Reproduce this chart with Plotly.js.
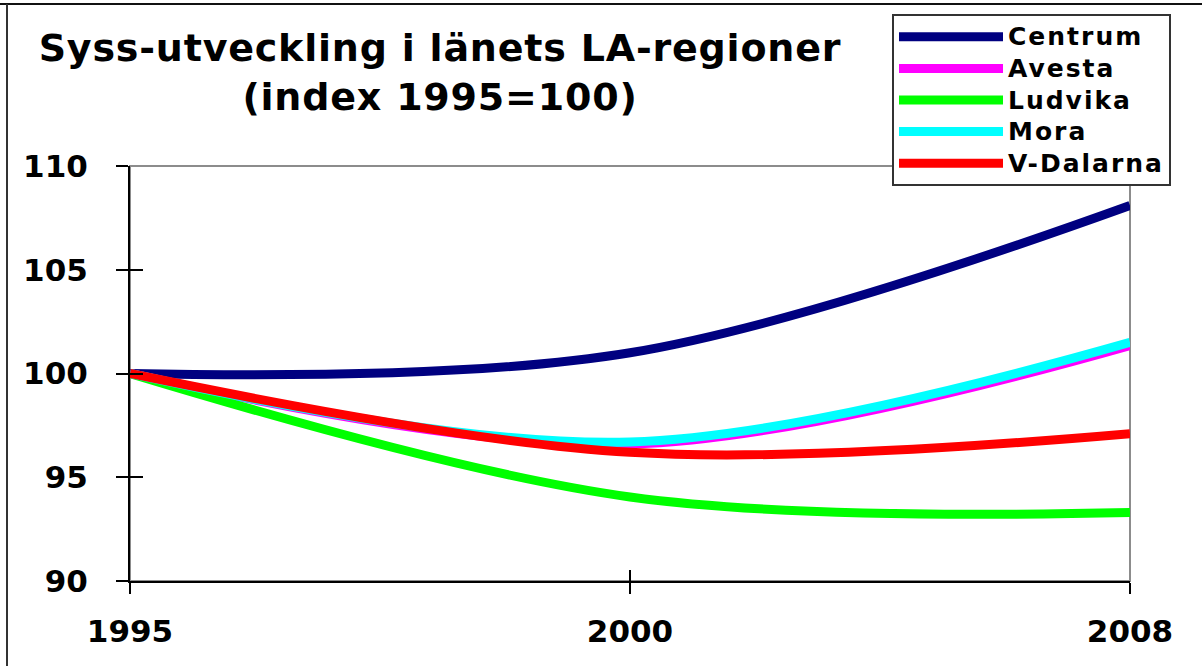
<!DOCTYPE html>
<html>
<head>
<meta charset="utf-8">
<script src="https://cdn.plot.ly/plotly-3.0.1.min.js"></script>
<style>
  html, body { margin: 0; padding: 0; background: #fff; }
  #chart { width: 1202px; height: 666px; }
  .legendtext { font-size: 25px !important; letter-spacing: 2px; }
  .gtitle { letter-spacing: 0.8px; }
</style>
</head>
<body>
<div id="chart"></div>
<script>
// ---- data ----
const years = ['1995', '2000', '2008'];
const seriesNames = ['Centrum', 'Avesta', 'Ludvika', 'Mora', 'V-Dalarna'];
const centrum  = [100, 101.0, 108.1];
const avesta   = [100, 96.6, 101.35];
const ludvika  = [100, 94.05, 93.3];
const mora     = [100, 96.7, 101.5];
const vdalarna = [100, 96.2, 97.1];
const yTicks = [90, 95, 100, 105, 110];

const seriesValues = [centrum, avesta, ludvika, mora, vdalarna];
const seriesColors = ['#000080', '#FF00FF', '#00FF00', '#00FFFF', '#FF0000'];

const traces = seriesNames.map((name, i) => ({
  type: 'scatter',
  mode: 'lines',
  name: name,
  x: years,
  y: seriesValues[i],
  line: { color: seriesColors[i], width: 9, shape: 'spline', smoothing: 1 },
  hoverinfo: 'x+y+name'
}));

const tickFont = { family: 'DejaVu Sans', size: 31, color: '#000', weight: 700 };

const layout = {
  width: 1202,
  height: 666,
  paper_bgcolor: '#fff',
  plot_bgcolor: '#fff',
  margin: { l: 130, r: 72, t: 166, b: 85, autoexpand: false },
  showlegend: true,
  title: {
    text: 'Syss-utveckling i länets LA-regioner<br>(index 1995=100)',
    font: { family: 'DejaVu Sans', size: 38, color: '#000', weight: 700 },
    xref: 'container', x: 440 / 1202, xanchor: 'center',
    yref: 'container', y: 1 - 61 / 666, yanchor: 'top'
  },
  legend: {
    xref: 'container', yref: 'container',
    x: 892 / 1202, y: 1 - 14 / 666, xanchor: 'left', yanchor: 'top',
    bgcolor: '#fff', bordercolor: '#333', borderwidth: 2,
    font: { family: 'DejaVu Sans', size: 22, color: '#000', weight: 700 },
    itemwidth: 104,
    tracegroupgap: 0
  },
  xaxis: {
    type: 'category',
    range: [0, 2],
    showgrid: false,
    zeroline: false,
    showline: true, linecolor: '#000', linewidth: 2,
    ticks: 'outside', ticklen: 11, tickwidth: 2, tickcolor: '#000',
    tickfont: tickFont,
    ticklabelstandoff: 11,
    fixedrange: true
  },
  yaxis: {
    range: [90, 110],
    tickvals: yTicks,
    ticktext: yTicks.map(String),
    showgrid: false,
    zeroline: false,
    showline: true, linecolor: '#000', linewidth: 2,
    ticks: 'outside', ticklen: 12, tickwidth: 2, tickcolor: '#000',
    tickfont: tickFont,
    ticklabelstandoff: 22,
    fixedrange: true
  },
  xaxis2: {
    type: 'category', overlaying: 'x', anchor: 'y', matches: 'x',
    range: [0, 2], showgrid: false, zeroline: false, showline: false,
    ticks: 'inside', ticklen: 11, tickwidth: 2, tickcolor: '#000',
    showticklabels: false, fixedrange: true
  },
  yaxis2: {
    overlaying: 'y', anchor: 'x', matches: 'y',
    range: [90, 110], tickvals: yTicks, showgrid: false, zeroline: false, showline: false,
    ticks: 'inside', ticklen: 13, tickwidth: 2, tickcolor: '#000',
    showticklabels: false, fixedrange: true
  },
  shapes: [
    { type: 'rect', xref: 'paper', yref: 'paper', x0: 0, x1: 1, y0: 0, y1: 1,
      line: { color: '#8c8c8c', width: 2 }, layer: 'below' },
    { type: 'line', xref: 'paper', yref: 'paper', x0: -0.14, x1: 1.08, y0: (581 - 4) / 415, y1: (581 - 4) / 415,
      line: { color: '#111', width: 2 } },
    { type: 'line', xref: 'paper', yref: 'paper', x0: -0.123, x1: -0.123, y0: (581 - 4) / 415, y1: -0.25,
      line: { color: '#333', width: 2 } }
  ]
};

const dummy = {
  type: 'scatter', mode: 'lines', x: years, y: [null, null, null],
  xaxis: 'x2', yaxis: 'y2', showlegend: false, hoverinfo: 'skip'
};

Plotly.newPlot('chart', traces.concat([dummy]), layout, { displayModeBar: false, staticPlot: true });
</script>
</body>
</html>
